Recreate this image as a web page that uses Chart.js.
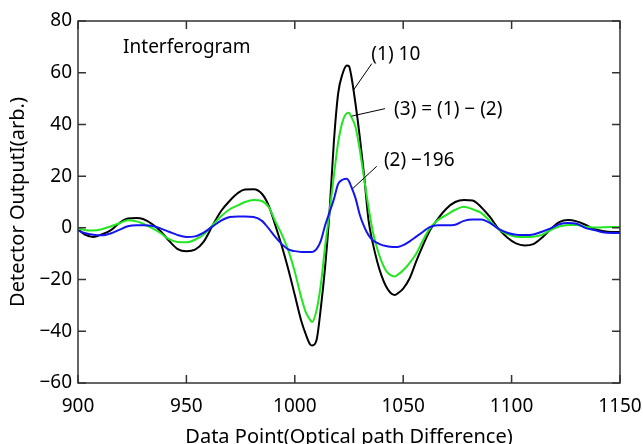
<!DOCTYPE html>
<html>
<head>
<meta charset="utf-8">
<script src="https://cdn.jsdelivr.net/npm/chart.js@4"></script>
<style>
  body { margin: 0; background: #fff; }
  canvas { display: block; }
</style>
</head>
<body>
<canvas id="ifgChart" width="643" height="444"></canvas>
<script>
// Data points (optical path difference)
const dataPoints = [900, 903, 907, 911, 915, 919, 923, 927, 930, 934, 938, 942, 946, 950, 954, 958,
  962, 966, 970, 974, 977, 981, 985, 988, 991, 994, 997, 1000, 1003, 1005, 1007, 1008, 1010,
  1012, 1014, 1016, 1018, 1020, 1022, 1024, 1025, 1026, 1028, 1030, 1032, 1034, 1036, 1038,
  1040, 1042, 1044, 1046, 1048, 1050, 1053, 1056, 1059, 1062, 1066, 1070, 1074, 1078, 1082,
  1086, 1090, 1094, 1098, 1102, 1106, 1110, 1114, 1118, 1122, 1126, 1130, 1134, 1138, 1142,
  1146, 1150];

// (1) 10
const series1 = [-0.5, -2.5, -3.5, -2.5, -1, 1.8, 3.6, 3.8, 3.4, 1.6, -1.2, -5, -8.2, -9, -8.4, -5.3,
  0.8, 6.5, 10.5, 13.6, 14.8, 14.9, 13, 8.5, 1, -7, -16, -26, -36, -41, -45, -45.5, -43.5,
  -31, -15, 6, 33, 52, 59.5, 62.8, 62.5, 59, 48, 35, 20, 3, -6, -13,
  -18.5, -22.5, -25, -26, -25, -23.5, -19.5, -13, -7, -1.5, 3.5, 7.5, 10, 10.8, 10.6,
  8, 4.2, -0.4, -3.7, -6, -6.8, -6.3, -3.8, -0.5, 2.2, 3, 2.5, 1.2, -0.4, -1.2,
  -1.6, -1.6];

// (2) -196
const series2 = [-1, -2, -2.7, -2.9, -2.2, -0.8, 0.6, 1, 1, 0.8, -0.2, -1.5, -2.8, -3.5, -3.3, -1.8,
  0.5, 2.8, 4.2, 4.4, 4.4, 4.2, 2.6, -0.3, -3.5, -6.3, -8.3, -9, -9.3, -9.3, -9.3, -9.3, -8.2,
  -5, 1, 6, 11, 17, 18.6, 19, 18, 16, 11.5, 5, 0.5, -2.8, -4.8, -5.8,
  -6.6, -7, -7.3, -7.4, -7.3, -6.7, -5.2, -3.4, -1.6, 0.2, 1, 1, 1.2, 2.7, 3.2,
  3.2, 1.9, -0.4, -1.9, -2.7, -2.8, -2.6, -1.5, -0.2, 1.4, 1.9, 1.6, 0, -0.8, -1.7,
  -2, -2];

// (3) = (1) - (2)
const series3 = [-0.3, -0.8, -1, -0.5, 0.5, 1.8, 2.9, 2.5, 1.6, 0, -2, -4.4, -5.5, -5.6, -4.6, -2.6,
  1, 4.5, 7.2, 8.8, 10, 10.8, 10.3, 8, 2.5, -2.5, -8.7, -17, -27, -32.5, -35.5, -36.4, -32,
  -22, -7, 6, 20, 33, 41, 44.3, 44.5, 43, 39, 30, 19, 8, -1.5, -8,
  -13, -16.5, -18.2, -18.8, -17.8, -16.4, -13.5, -10, -5, -0.6, 3, 5, 7, 8.2, 7.2,
  5.8, 2.6, -0.5, -2.4, -3.4, -3.5, -3.4, -2.7, -0.9, 0.5, 1.1, 1.1, 0.4, 0.1, 0.2,
  0.3, 0.3];

const xTicks = [900, 950, 1000, 1050, 1100, 1150];
const yTicks = [-60, -40, -20, 0, 20, 40, 60, 80];

const FONT = '"Noto Sans", "Liberation Sans", sans-serif';

// Labels drawn on the plot, anchored in data units
const notes = [
  { text: 'Interferogram', at: [920.8, 69.6] },
  { text: '(1) 10', at: [1035.3, 67.2], from: [1035.5, 63.5], to: [1027, 53.2] },
  { text: '(3) = (1) \u2212 (2)', at: [1045.8, 45.9], from: [1041.6, 46.1], to: [1026.2, 43.2] },
  { text: '(2) \u2212196', at: [1041.1, 26.1], from: [1037.8, 23.8], to: [1026.7, 15.2] }
];

function toPoints(values) {
  return dataPoints.map((x, i) => ({ x: x, y: values[i] }));
}

// Box frame, inward ticks on all sides and the curve labels
const frameAndNotes = {
  id: 'frameAndNotes',
  afterDatasetsDraw(chart) {
    const { ctx, chartArea: a, scales: { x, y } } = chart;
    ctx.save();
    ctx.strokeStyle = '#333';
    ctx.lineWidth = 1.5;
    ctx.strokeRect(a.left, a.top, a.right - a.left, a.bottom - a.top);

    ctx.beginPath();
    xTicks.forEach(v => {
      const px = x.getPixelForValue(v);
      ctx.moveTo(px, a.bottom); ctx.lineTo(px, a.bottom - 8);
      ctx.moveTo(px, a.top); ctx.lineTo(px, a.top + 8);
    });
    yTicks.forEach(v => {
      const py = y.getPixelForValue(v);
      ctx.moveTo(a.left, py); ctx.lineTo(a.left + 8, py);
      ctx.moveTo(a.right, py); ctx.lineTo(a.right - 8, py);
    });
    ctx.stroke();

    ctx.strokeStyle = '#000';
    ctx.lineWidth = 1;
    ctx.fillStyle = '#000';
    ctx.font = '19px ' + FONT;
    ctx.textAlign = 'left';
    ctx.textBaseline = 'middle';
    notes.forEach(n => {
      ctx.fillText(n.text, x.getPixelForValue(n.at[0]), y.getPixelForValue(n.at[1]));
      if (n.from) {
        ctx.beginPath();
        ctx.moveTo(x.getPixelForValue(n.from[0]), y.getPixelForValue(n.from[1]));
        ctx.lineTo(x.getPixelForValue(n.to[0]), y.getPixelForValue(n.to[1]));
        ctx.stroke();
      }
    });
    ctx.restore();
  }
};

function lineSet(label, values, color, order) {
  return {
    label: label,
    data: toPoints(values),
    borderColor: color,
    borderWidth: 2,
    pointRadius: 0,
    cubicInterpolationMode: 'monotone',
    fill: false,
    order: order
  };
}

document.addEventListener('DOMContentLoaded', () => {
  const ctx = document.getElementById('ifgChart').getContext('2d');
  new Chart(ctx, {
    type: 'line',
    data: {
      datasets: [
        lineSet('(1) 10', series1, '#000000', 3),
        lineSet('(3) = (1) - (2)', series3, '#22e622', 2),
        lineSet('(2) -196', series2, '#1414f0', 1)
      ]
    },
    options: {
      responsive: false,
      animation: false,
      layout: { padding: { top: 21, right: 23, left: 0, bottom: 0 } },
      plugins: { legend: { display: false }, tooltip: { enabled: false } },
      scales: {
        x: {
          type: 'linear',
          min: 900,
          max: 1150,
          grid: { display: false, drawTicks: false },
          border: { display: false },
          afterBuildTicks: s => { s.ticks = xTicks.map(v => ({ value: v })); },
          afterFit: s => { s.height = 61; s.paddingLeft = 0; s.paddingRight = 0; },
          ticks: {
            color: '#000',
            padding: 12,
            maxRotation: 0,
            font: { family: FONT, size: 19 },
            callback: v => String(v)
          },
          title: {
            display: true,
            text: 'Data Point(Optical path Difference)',
            color: '#000',
            font: { family: FONT, size: 20 },
            padding: { top: 0, bottom: -5 }
          }
        },
        y: {
          type: 'linear',
          min: -60,
          max: 80,
          grid: { display: false, drawTicks: false },
          border: { display: false },
          afterBuildTicks: s => { s.ticks = yTicks.map(v => ({ value: v })); },
          afterFit: s => { s.width = 78; },
          ticks: {
            color: '#000',
            padding: 6,
            font: { family: FONT, size: 19 },
            callback: v => String(v).replace('-', '\u2212')
          },
          title: {
            display: true,
            text: 'Detector OutputI(arb.)',
            color: '#000',
            font: { family: FONT, size: 20 },
            padding: { top: 6, bottom: 0 }
          }
        }
      }
    },
    plugins: [frameAndNotes]
  });
});
</script>
</body>
</html>
